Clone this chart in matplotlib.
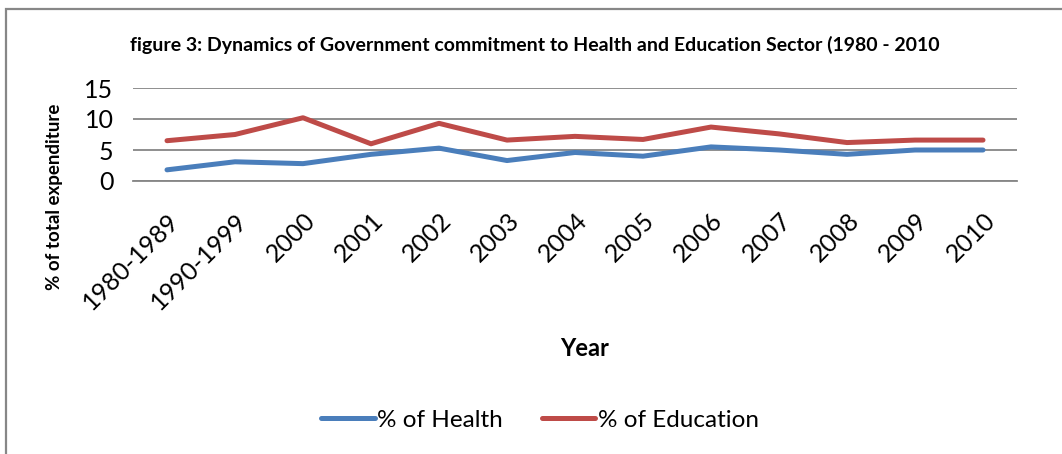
import matplotlib
matplotlib.use('Agg')
import matplotlib.pyplot as plt
from matplotlib.patches import Rectangle

years = ['1980-1989', '1990-1999', '2000', '2001', '2002', '2003', '2004',
         '2005', '2006', '2007', '2008', '2009', '2010']
health = [1.8, 3.1, 2.8, 4.3, 5.3, 3.3, 4.6, 4.0, 5.5, 5.0, 4.3, 5.0, 5.0]
education = [6.5, 7.5, 10.2, 6.0, 9.3, 6.6, 7.2, 6.7, 8.7, 7.6, 6.2, 6.6, 6.6]

plt.rcParams['font.family'] = ['Lato', 'DejaVu Sans']

fig = plt.figure(figsize=(10.62, 4.54), dpi=100)
# outer chart border
fig.patches.append(Rectangle((6 / 1062, -0.1), 1.2, 1 - 9 / 454 + 0.1,
                             transform=fig.transFigure, fill=False,
                             edgecolor='#878787', linewidth=1.6))

ax = fig.add_axes([133 / 1062, 1 - 181 / 454, (1017 - 133) / 1062, (181 - 88) / 454])
x = range(len(years))
ax.plot(x, health, color='#4A7EBB', lw=3.6, solid_capstyle='round', label='% of Health')
ax.plot(x, education, color='#BE4B48', lw=3.6, solid_capstyle='round', label='% of Education')

ax.set_xlim(-0.5, len(years) - 0.5)
ax.set_ylim(0, 15)
ax.set_yticks([0, 5, 10, 15])
ax.grid(axis='y', color='#868686', lw=1.3)
ax.set_axisbelow(True)
for s in ['top', 'right', 'left']:
    ax.spines[s].set_visible(False)
ax.spines['bottom'].set_color('#868686')
ax.spines['bottom'].set_linewidth(1.3)
ax.tick_params(axis='both', length=0, labelsize=18)
ax.tick_params(axis='y', pad=14)
ax.tick_params(axis='x', pad=20)
ax.set_xticks(list(x))
ax.set_xticklabels(years, rotation=45, ha='right', rotation_mode='anchor')

fig.text(55 / 1062, 1 - 197 / 454, '% of total expenditure', rotation=90,
         ha='center', va='center', fontsize=13.5, fontweight='bold')
fig.text(535 / 1062, 1 - 45 / 454,
         'figure 3: Dynamics of Government commitment to Health and Education Sector (1980 - 2010',
         ha='center', va='center', fontsize=14, fontweight='bold')
fig.text(585 / 1062, 1 - 349 / 454, 'Year', ha='center', va='center',
         fontsize=17, fontweight='bold')

fig.legend(loc='center', bbox_to_anchor=(540 / 1062, 1 - 420 / 454), ncol=2,
           frameon=False, fontsize=17.5, handlelength=2.2, handletextpad=0.1,
           columnspacing=1.6)

fig.savefig('out.png', dpi=100)
